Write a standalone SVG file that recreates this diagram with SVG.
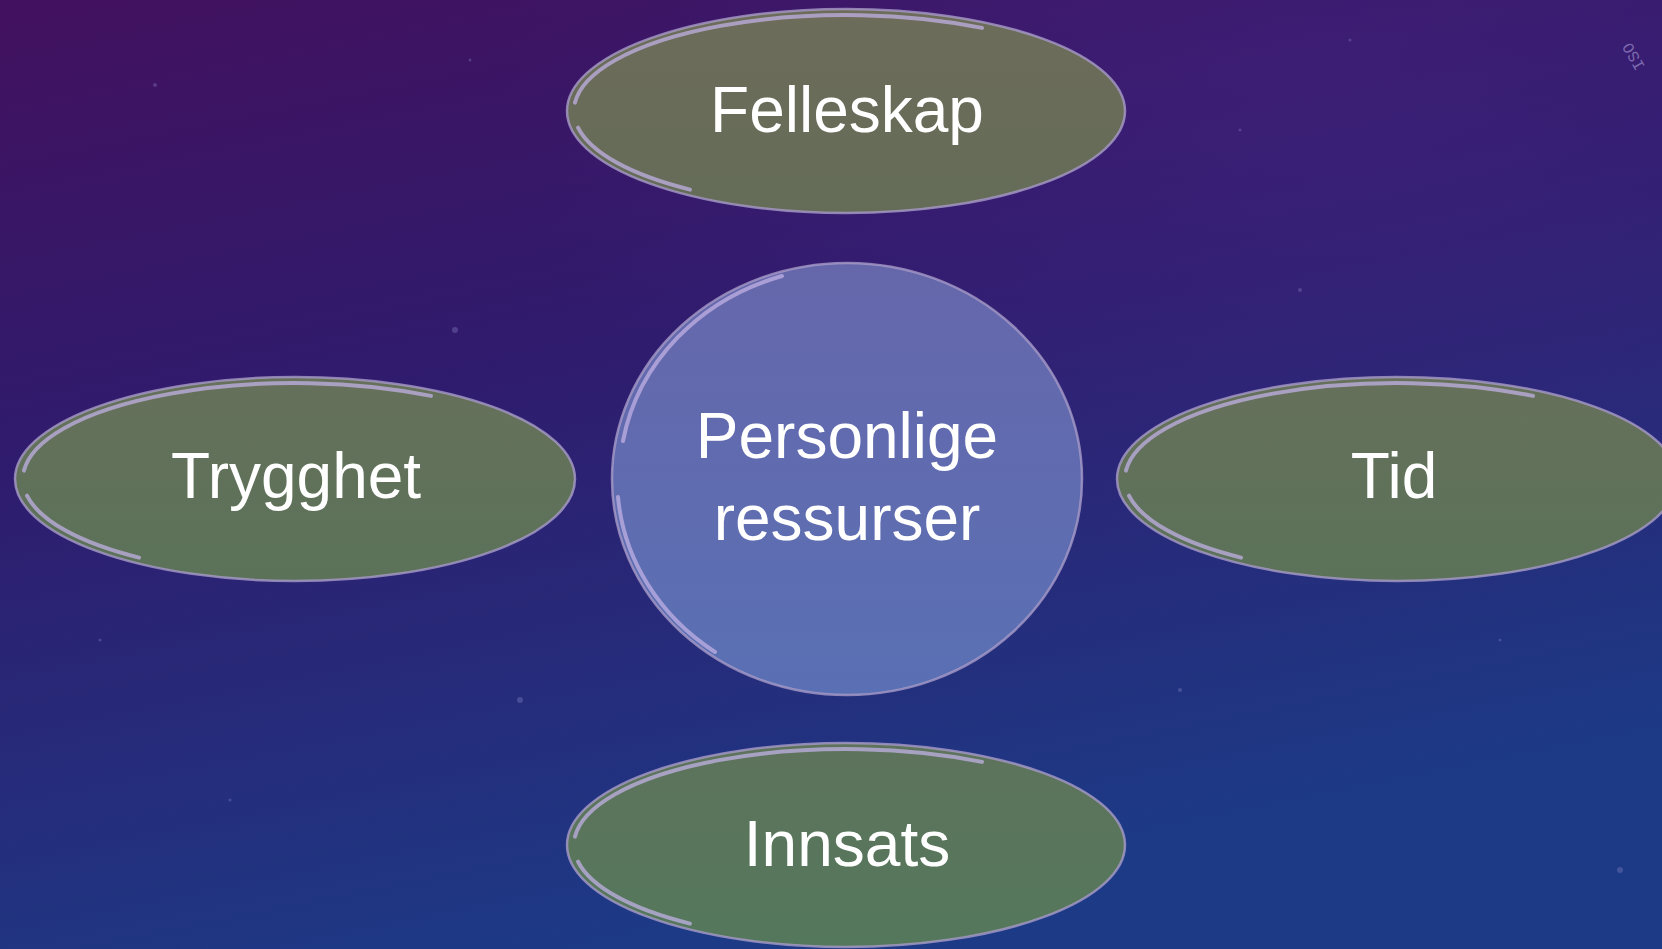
<svg xmlns="http://www.w3.org/2000/svg" width="1662" height="949" viewBox="0 0 1662 949">
<defs>
<linearGradient id="bg" x1="0" y1="0" x2="0.35" y2="1">
<stop offset="0" stop-color="#42115f"/>
<stop offset="0.45" stop-color="#2f1c6e"/>
<stop offset="1" stop-color="#1d3a86"/>
</linearGradient>
<radialGradient id="glow" cx="0.8" cy="0.1" r="0.5">
<stop offset="0" stop-color="#4a2a8a" stop-opacity="0.35"/>
<stop offset="1" stop-color="#4a2a8a" stop-opacity="0"/>
</radialGradient>
<linearGradient id="olive" x1="0" y1="0" x2="0" y2="1">
<stop offset="0" stop-color="#6d6c5a"/>
<stop offset="1" stop-color="#646c58"/>
</linearGradient>
<linearGradient id="green1" x1="0" y1="0" x2="0" y2="1">
<stop offset="0" stop-color="#66705b"/>
<stop offset="1" stop-color="#5b7259"/>
</linearGradient>
<linearGradient id="green2" x1="0" y1="0" x2="0" y2="1">
<stop offset="0" stop-color="#5e735c"/>
<stop offset="1" stop-color="#54785c"/>
</linearGradient>
<linearGradient id="blue" x1="0" y1="0" x2="0" y2="1">
<stop offset="0" stop-color="#6667ab"/>
<stop offset="1" stop-color="#5a70b4"/>
</linearGradient>
<style>
.rim{stroke:#a79bc8;stroke-width:2.5;stroke-opacity:0.8}
.hl{fill:none;stroke:#c0b0e4;stroke-width:4;stroke-linecap:round;stroke-opacity:0.75}
.lbl{font-family:"Liberation Sans",Arial,sans-serif;fill:#ffffff;text-anchor:middle;font-size:64px}
.star{fill:#8c86c8;opacity:0.35}
</style>
<g id="ehl">
<path class="hl" d="M -271 -8.4 A 272 96 0 0 1 136 -83.1"/>
<path class="hl" d="M -268 16.7 A 272 96 0 0 0 -156 78.6" stroke-width="5"/>
</g>
</defs>
<rect width="1662" height="949" fill="url(#bg)"/>
<rect width="1662" height="949" fill="url(#glow)"/>
<g id="stars">
<circle class="star" cx="155" cy="85" r="2"/><circle class="star" cx="470" cy="60" r="1.5"/>
<circle class="star" cx="455" cy="330" r="3"/><circle class="star" cx="1300" cy="290" r="2"/>
<circle class="star" cx="1350" cy="40" r="1.5"/><circle class="star" cx="520" cy="700" r="3"/>
<circle class="star" cx="1180" cy="690" r="2"/><circle class="star" cx="230" cy="800" r="1.5"/>
<circle class="star" cx="1620" cy="870" r="3"/><circle class="star" cx="1500" cy="640" r="1.5"/>
<circle class="star" cx="100" cy="640" r="1.5"/><circle class="star" cx="1240" cy="130" r="1.5"/>
</g>
<text x="1638" y="54" transform="rotate(-120 1638 54)" font-family="Liberation Mono,monospace" font-size="16" fill="#9d8cc8" fill-opacity="0.7" text-anchor="middle">ISO</text>
<g id="connectors"></g>
<g id="node-felleskap">
<ellipse cx="846" cy="111" rx="279" ry="102" fill="url(#olive)" class="rim"/>
<use href="#ehl" x="846" y="111"/>
<text class="lbl" x="847" y="132">Felleskap</text>
</g>
<g id="node-trygghet">
<ellipse cx="295" cy="479" rx="280" ry="102" fill="url(#green1)" class="rim"/>
<use href="#ehl" x="295" y="479"/>
<text class="lbl" x="296" y="498">Trygghet</text>
</g>
<g id="node-tid">
<ellipse cx="1397" cy="479" rx="280" ry="102" fill="url(#green1)" class="rim"/>
<use href="#ehl" x="1397" y="479"/>
<text class="lbl" x="1394" y="498">Tid</text>
</g>
<g id="node-innsats">
<ellipse cx="846" cy="845" rx="279" ry="102" fill="url(#green2)" class="rim"/>
<use href="#ehl" x="846" y="845"/>
<text class="lbl" x="847" y="866">Innsats</text>
</g>
<g id="node-personlige">
<ellipse cx="847" cy="479" rx="235" ry="216" fill="url(#blue)" class="rim"/>
<path class="hl" d="M 623 441 A 230 211 0 0 1 782 276" stroke-opacity="0.45" stroke-width="3"/>
<path class="hl" d="M 618 497 A 230 211 0 0 0 715 652" stroke-opacity="0.6"/>
<text class="lbl" x="847" y="458">Personlige</text>
<text class="lbl" x="847" y="540">ressurser</text>
</g>
</svg>
